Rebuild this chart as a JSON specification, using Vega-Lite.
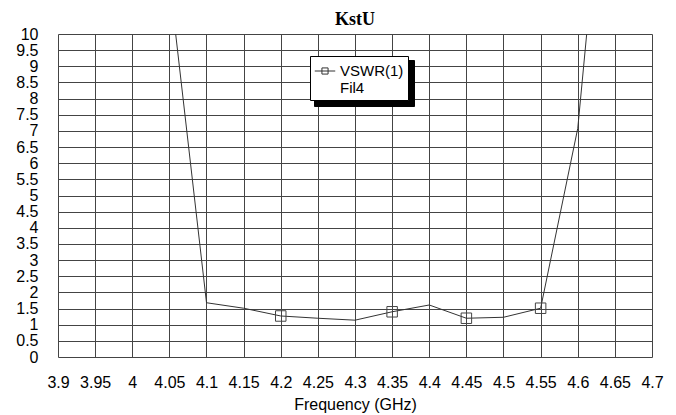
{
  "$schema": "https://vega.github.io/schema/vega-lite/v6.json",
  "width": 594,
  "height": 323,
  "autosize": {"type": "none"},
  "padding": {"left": 58, "top": 34, "right": 24, "bottom": 58},
  "background": "white",
  "title": {
    "text": "KstU",
    "font": "Liberation Serif",
    "fontSize": 18,
    "fontWeight": "bold",
    "color": "black",
    "anchor": "middle",
    "offset": -3
  },
  "config": {
    "view": {"stroke": null},
    "axis": {
      "labelFont": "Liberation Sans",
      "labelFontSize": 16,
      "labelColor": "black",
      "titleFont": "Liberation Sans",
      "titleFontSize": 16,
      "titleFontWeight": "normal",
      "titleColor": "black",
      "domain": false,
      "ticks": false,
      "gridColor": "#444444",
      "gridOpacity": 1,
      "gridWidth": 1
    }
  },
  "data": {
    "values": [
      {"f": 4.05, "vswr": 11.7, "marker": false},
      {"f": 4.1, "vswr": 1.68, "marker": false},
      {"f": 4.15, "vswr": 1.51, "marker": false},
      {"f": 4.2, "vswr": 1.27, "marker": true},
      {"f": 4.25, "vswr": 1.2, "marker": false},
      {"f": 4.3, "vswr": 1.14, "marker": false},
      {"f": 4.35, "vswr": 1.4, "marker": true},
      {"f": 4.4, "vswr": 1.61, "marker": false},
      {"f": 4.45, "vswr": 1.2, "marker": true},
      {"f": 4.5, "vswr": 1.23, "marker": false},
      {"f": 4.55, "vswr": 1.51, "marker": true},
      {"f": 4.6, "vswr": 7.08, "marker": false},
      {"f": 4.65, "vswr": 19.2, "marker": false}
    ]
  },
  "encoding": {
    "x": {
      "field": "f",
      "type": "quantitative",
      "scale": {"domain": [3.9, 4.7], "nice": false, "zero": false},
      "axis": {
        "title": "Frequency (GHz)",
        "values": [3.9, 3.95, 4, 4.05, 4.1, 4.15, 4.2, 4.25, 4.3, 4.35, 4.4, 4.45, 4.5, 4.55, 4.6, 4.65, 4.7],
        "format": "~g",
        "labelPadding": 17,
        "titlePadding": 6,
        "labelFlush": false,
        "labelOverlap": false
      }
    },
    "y": {
      "field": "vswr",
      "type": "quantitative",
      "scale": {"domain": [0, 10], "nice": false},
      "axis": {
        "title": null,
        "values": [0, 0.5, 1, 1.5, 2, 2.5, 3, 3.5, 4, 4.5, 5, 5.5, 6, 6.5, 7, 7.5, 8, 8.5, 9, 9.5, 10],
        "format": "~g",
        "labelPadding": 20,
        "labelFlush": false,
        "labelOverlap": false
      }
    }
  },
  "layer": [
    {
      "mark": {"type": "line", "clip": true, "color": "#333333", "strokeWidth": 1},
      "encoding": {
        "color": {
          "datum": "VSWR(1)",
          "scale": {"range": ["#333333"]},
          "legend": {
            "title": null,
            "orient": "none",
            "legendX": 252,
            "legendY": 22,
            "zindex": 2,
            "symbolType": "M-1,0H1M-0.3,-0.3H0.3V0.3H-0.3Z",
            "symbolSize": 420,
            "symbolStrokeWidth": 1,
            "symbolFillColor": "transparent",
            "symbolStrokeColor": "#333333",
            "labelExpr": "['VSWR(1)', 'Fil4']",
            "labelFont": "Liberation Sans",
            "labelFontSize": 15,
            "labelColor": "black",
            "labelBaseline": "middle",
            "labelLineHeight": 16,
            "labelOffset": 4,
            "fillColor": "white",
            "strokeColor": "black",
            "padding": 4
          }
        }
      }
    },
    {
      "transform": [{"filter": "datum.marker"}],
      "mark": {"type": "point", "filled": false, "size": 110, "color": "#444444", "strokeWidth": 1, "opacity": 1},
      "encoding": {
        "shape": {
          "datum": "Fil4",
          "scale": {"range": ["square"]},
          "legend": {
            "title": null,
            "orient": "none",
            "legendX": 256,
            "legendY": 26,
            "zindex": 1,
            "symbolType": "square",
            "symbolSize": 1369,
            "symbolOpacity": 0,
            "labelExpr": "'.'",
            "labelFont": "Liberation Sans",
            "labelFontSize": 15,
            "labelOpacity": 0,
            "labelBaseline": "middle",
            "labelOffset": 48,
            "fillColor": "black",
            "strokeColor": "black",
            "padding": 4
          }
        }
      }
    }
  ]
}
